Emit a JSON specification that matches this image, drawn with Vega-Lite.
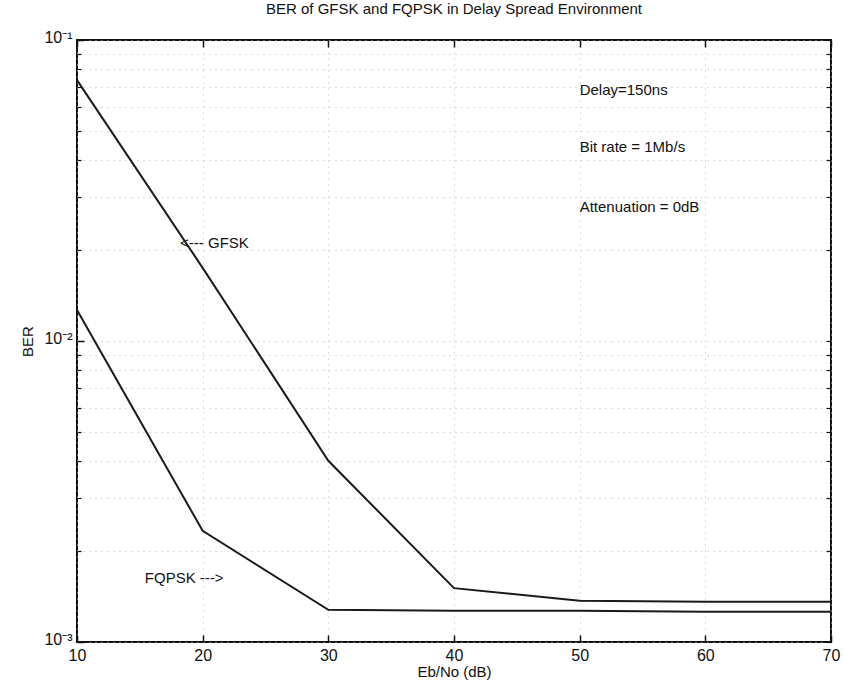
{
  "$schema": "https://vega.github.io/schema/vega-lite/v6.json",
  "autosize": {"type": "none"},
  "width": 754,
  "height": 602,
  "padding": {"left": 77, "top": 40, "right": 13, "bottom": 50},
  "background": "white",
  "config": {
    "font": "Liberation Sans",
    "view": {"stroke": "#111", "strokeWidth": 2},
    "axis": {"domain": false, "labelColor": "#111", "titleColor": "#111", "labelFont": "Liberation Sans", "titleFont": "Liberation Sans", "titleFontWeight": "normal", "labelFontSize": 16, "titleFontSize": 15, "tickColor": "#111", "gridColor": "#bbbbbb", "gridDash": [1, 5], "gridWidth": 1, "labelFlush": false}
  },
  "title": {"text": "BER of GFSK and FQPSK in Delay Spread Environment", "fontSize": 15, "fontWeight": "normal", "font": "Liberation Sans", "color": "#111", "offset": 12},
  "datasets": {
    "lines": [
      {"series": "GFSK", "ebno": 10, "ber": 0.0736},
      {"series": "GFSK", "ebno": 20, "ber": 0.0175},
      {"series": "GFSK", "ebno": 30, "ber": 0.0040},
      {"series": "GFSK", "ebno": 40, "ber": 0.00151},
      {"series": "GFSK", "ebno": 50, "ber": 0.00137},
      {"series": "GFSK", "ebno": 60, "ber": 0.00136},
      {"series": "GFSK", "ebno": 70, "ber": 0.00136},
      {"series": "FQPSK", "ebno": 10, "ber": 0.01268},
      {"series": "FQPSK", "ebno": 20, "ber": 0.00234},
      {"series": "FQPSK", "ebno": 30, "ber": 0.00128},
      {"series": "FQPSK", "ebno": 40, "ber": 0.00127},
      {"series": "FQPSK", "ebno": 50, "ber": 0.00127},
      {"series": "FQPSK", "ebno": 60, "ber": 0.00126},
      {"series": "FQPSK", "ebno": 70, "ber": 0.00126}
    ],
    "notes": [
      {"label": "Delay=150ns", "ebno": 50.0, "ber": 0.0682},
      {"label": "Bit rate = 1Mb/s", "ebno": 50.0, "ber": 0.0441},
      {"label": "Attenuation = 0dB", "ebno": 50.0, "ber": 0.0279},
      {"label": "<--- GFSK", "ebno": 18.2, "ber": 0.0212},
      {"label": "FQPSK --->", "ebno": 15.4, "ber": 0.00163}
    ]
  },
  "layer": [
    {
      "data": {"name": "lines"},
      "mark": {"type": "line", "color": "#1a1a1a", "strokeWidth": 2},
      "encoding": {
        "x": {"field": "ebno", "type": "quantitative", "scale": {"domain": [10, 70], "nice": false, "zero": false},
              "axis": {"orient": "bottom", "title": "Eb/No (dB)", "values": [10, 20, 30, 40, 50, 60, 70], "tickSize": -7, "tickWidth": 1.5, "labelPadding": 12, "titlePadding": 1, "grid": true}},
        "y": {"field": "ber", "type": "quantitative", "scale": {"type": "log", "domain": [0.001, 0.1], "nice": false},
              "axis": {"orient": "left", "title": "BER", "values": [0.001, 0.01, 0.1], "tickSize": -7, "tickWidth": 1.5, "labelPadding": 12, "titlePadding": 8, "grid": true, "labelOffset": -3,
                       "labelExpr": "datum.value < 0.005 ? '10⁻³' : datum.value < 0.05 ? '10⁻²' : '10⁻¹'"}},
        "detail": {"field": "series"}
      }
    },
    {
      "data": {"name": "notes"},
      "mark": {"type": "text", "align": "left", "baseline": "middle", "fontSize": 15, "font": "Liberation Sans", "color": "#111"},
      "encoding": {
        "x": {"field": "ebno", "type": "quantitative",
              "axis": {"orient": "top", "title": null, "labels": false, "values": [10, 20, 30, 40, 50, 60, 70], "tickSize": -7, "tickWidth": 1.5, "grid": false}},
        "y": {"field": "ber", "type": "quantitative",
              "axis": {"orient": "left", "title": null, "labels": false, "values": [0.002, 0.003, 0.004, 0.005, 0.006, 0.007, 0.008, 0.009, 0.02, 0.03, 0.04, 0.05, 0.06, 0.07, 0.08, 0.09], "tickSize": -4, "tickWidth": 1.2, "grid": true}},
        "text": {"field": "label"}
      }
    },
    {
      "data": {"name": "notes"},
      "mark": {"type": "point", "opacity": 0},
      "encoding": {
        "x": {"field": "ebno", "type": "quantitative", "axis": null},
        "y": {"field": "ber", "type": "quantitative",
              "axis": {"orient": "right", "title": null, "labels": false, "values": [0.001, 0.002, 0.003, 0.004, 0.005, 0.006, 0.007, 0.008, 0.009, 0.01, 0.02, 0.03, 0.04, 0.05, 0.06, 0.07, 0.08, 0.09, 0.1], "tickSize": -5, "tickWidth": 1.2, "grid": false}}
      }
    }
  ],
  "resolve": {"axis": {"x": "independent", "y": "independent"}}
}
